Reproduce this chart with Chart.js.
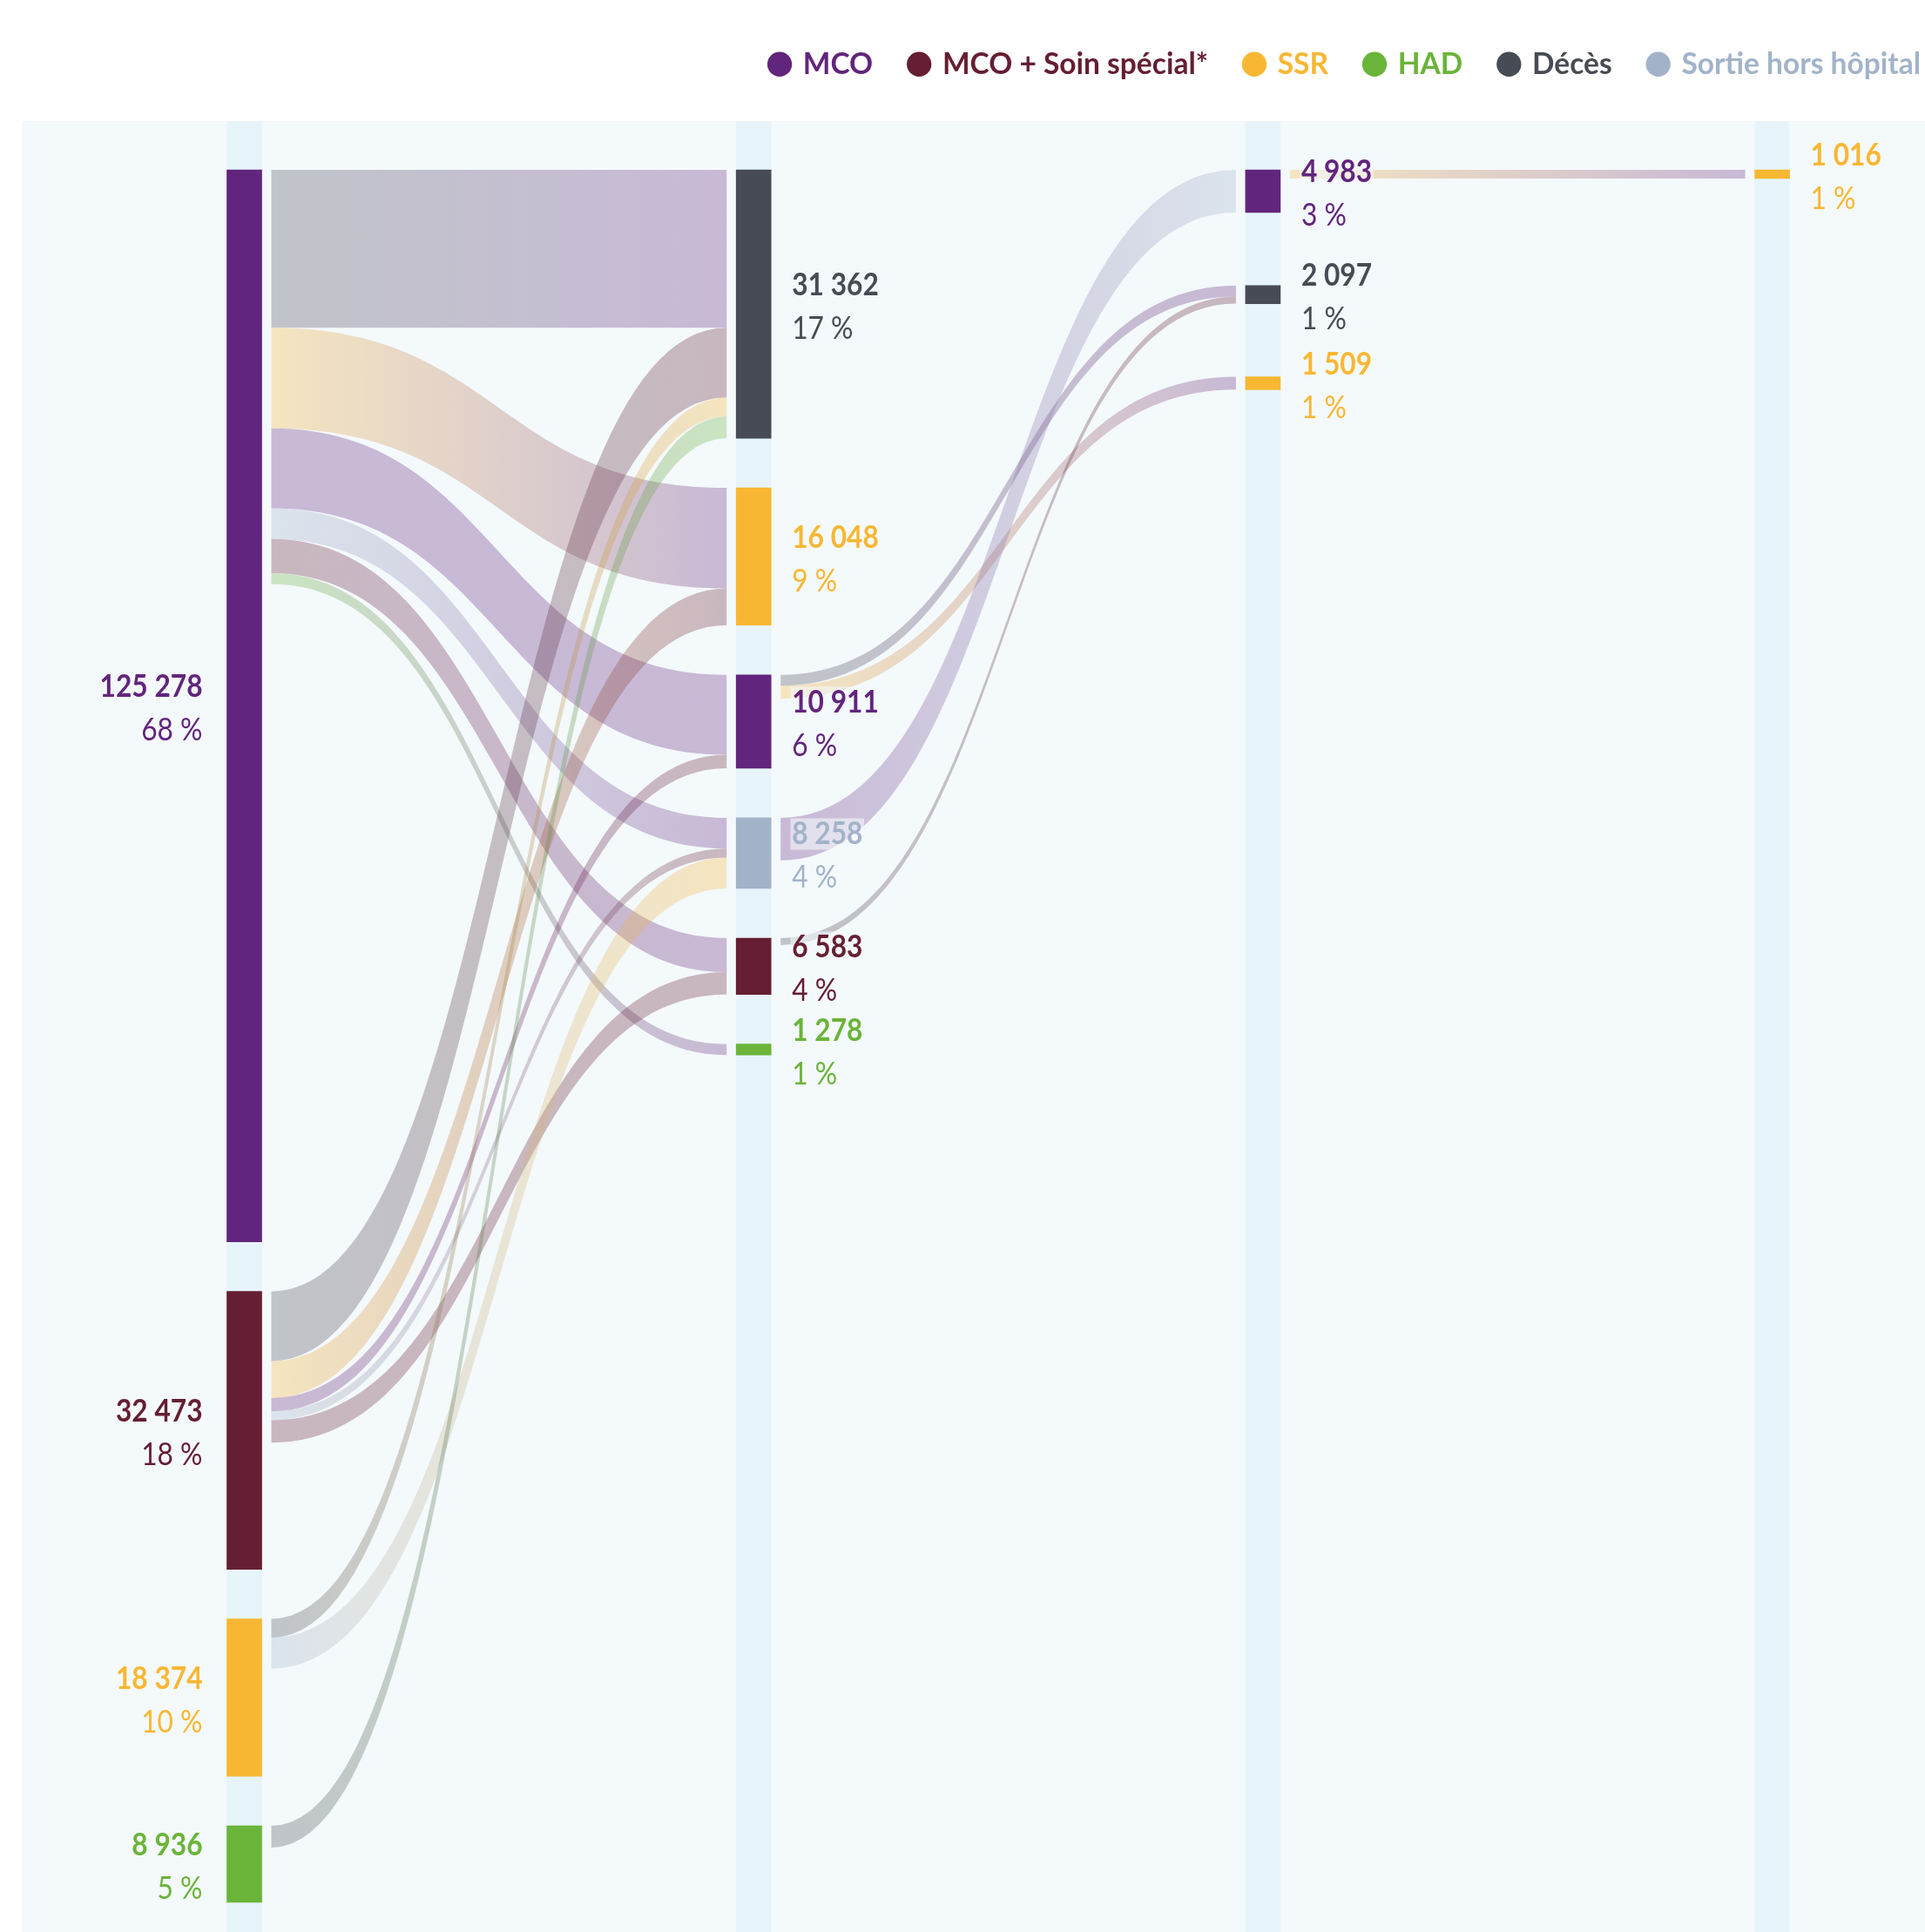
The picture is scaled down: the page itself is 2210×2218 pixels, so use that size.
<!DOCTYPE html>
<html>
<head>
<meta charset="utf-8">
<script src="https://cdn.jsdelivr.net/npm/chart.js@4.4.1/dist/chart.umd.min.js"></script>
<style>
html,body{margin:0;padding:0;background:#ffffff;}
canvas{display:block;}
</style>
</head>
<body>
<canvas id="c" width="2210" height="2218"></canvas>
<script>
// ================= DATA =================
const categories = ['MCO', 'MCO + Soin spécial*', 'SSR', 'HAD', 'Décès', 'Sortie hors hôpital'];

// nodes of each stage (top to bottom) and their values
const stage1Nodes = ['MCO', 'MCO + Soin spécial*', 'SSR', 'HAD'];
const stage1Values = [125278, 32473, 18374, 8936];
const stage2Nodes = ['Décès', 'SSR', 'MCO', 'Sortie hors hôpital', 'MCO + Soin spécial*', 'HAD'];
const stage2Values = [31362, 16048, 10911, 8258, 6583, 1278];
const stage3Nodes = ['MCO', 'Décès', 'SSR'];
const stage3Values = [4983, 2097, 1509];
const stage4Nodes = ['SSR'];
const stage4Values = [1016];

// flows stage 1 -> stage 2
const flow12From = ['MCO', 'MCO', 'MCO', 'MCO', 'MCO', 'MCO',
  'MCO + Soin spécial*', 'MCO + Soin spécial*', 'MCO + Soin spécial*', 'MCO + Soin spécial*', 'MCO + Soin spécial*',
  'SSR', 'SSR', 'HAD'];
const flow12To = ['Décès', 'SSR', 'MCO', 'Sortie hors hôpital', 'MCO + Soin spécial*', 'HAD',
  'Décès', 'SSR', 'MCO', 'Sortie hors hôpital', 'MCO + Soin spécial*',
  'Décès', 'Sortie hors hôpital', 'Décès'];
const flow12Values = [18450, 11750, 9350, 3600, 3980, 1278,
  8150, 4298, 1561, 1050, 2603,
  2200, 3608, 2562];
// flows stage 2 -> stage 3
const flow23From = ['MCO', 'MCO', 'Sortie hors hôpital', 'MCO + Soin spécial*'];
const flow23To = ['Décès', 'SSR', 'MCO', 'Décès'];
const flow23Values = [1290, 1509, 4983, 807];
// flows stage 3 -> stage 4
const flow34From = ['MCO'];
const flow34To = ['SSR'];
const flow34Values = [1016];

// ================= STYLE / LAYOUT =================
const categoryColors = ['#62257D', '#651E32', '#F8B733', '#6AB43A', '#474B53', '#A2B3C9'];
const PANEL_BG = '#F4F9FC';
const STRIPE_BG = '#E7F4FA';
const LINK_ALPHA = 0.3;
const FONT = 'Lato, "Noto Sans", sans-serif';
const TEXT_SX = 0.88;

const W = 2210, H = 2218;
const PAD = {top: 14, left: 25, right: -38, bottom: 0};
const LEGEND_H = 125;
const UNITS_PER_PX = 101.8;
const NODE_TOP_PX = 195;
const COL0_PX = 280.5, COL_STEP_PX = 584.7;
const NODE_W = 40, LINK_GAP = 11;
const STAGE_GAP_PX = [57, 57, 84, 0];

const stages = [
  {nodes: stage1Nodes, values: stage1Values},
  {nodes: stage2Nodes, values: stage2Values},
  {nodes: stage3Nodes, values: stage3Values},
  {nodes: stage4Nodes, values: stage4Values}
];
const flows = [
  {from: flow12From, to: flow12To, values: flow12Values},
  {from: flow23From, to: flow23To, values: flow23Values},
  {from: flow34From, to: flow34To, values: flow34Values}
];
const grandTotal = stage1Values.reduce((a, b) => a + b, 0);
const colorOf = name => categoryColors[categories.indexOf(name)];

// node layout in value units (y)
const nodeLayout = stages.map((st, s) => {
  let acc = 0;
  const gap = STAGE_GAP_PX[s] * UNITS_PER_PX;
  return st.nodes.map((n, i) => {
    const top = acc;
    acc += st.values[i] + gap;
    return {name: n, value: st.values[i], top, bottom: top + st.values[i]};
  });
});

// link layout
const linkLayout = [];
flows.forEach((f, s) => {
  const src = nodeLayout[s], tgt = nodeLayout[s + 1];
  const items = f.values.map((v, k) => ({
    si: src.findIndex(n => n.name === f.from[k]),
    ti: tgt.findIndex(n => n.name === f.to[k]),
    value: v, stage: s
  }));
  const srcOff = src.map(n => n.top), tgtOff = tgt.map(n => n.top);
  [...items].sort((a, b) => a.si - b.si || a.ti - b.ti).forEach(it => {
    it.sy0 = srcOff[it.si]; srcOff[it.si] += it.value; it.sy1 = srcOff[it.si];
  });
  [...items].sort((a, b) => a.ti - b.ti || a.si - b.si).forEach(it => {
    it.ty0 = tgtOff[it.ti]; tgtOff[it.ti] += it.value; it.ty1 = tgtOff[it.ti];
  });
  items.forEach(it => {
    it.srcColor = colorOf(src[it.si].name);
    it.tgtColor = colorOf(tgt[it.ti].name);
    linkLayout.push(it);
  });
});

// node bars for Chart.js
const nodeBars = [], nodeColors = [];
nodeLayout.forEach((col, s) => col.forEach(n => {
  nodeBars.push({x: s, y: [n.top, n.bottom]});
  nodeColors.push(colorOf(n.name));
}));

// scale ranges from a chart area
function rangesFor(area) {
  const yMin = -(NODE_TOP_PX - area.top) * UNITS_PER_PX;
  const yMax = yMin + (area.bottom - area.top) * UNITS_PER_PX;
  const xMin = -(COL0_PX - area.left) / COL_STEP_PX;
  const xMax = xMin + (area.right - area.left) / COL_STEP_PX;
  return {xMin, xMax, yMin, yMax};
}
const initial = rangesFor({left: PAD.left, right: W, top: PAD.top + LEGEND_H, bottom: H});

function rgba(hex, a) {
  const n = parseInt(hex.slice(1), 16);
  return `rgba(${(n >> 16) & 255},${(n >> 8) & 255},${n & 255},${a})`;
}
const fmt = v => String(v).replace(/\B(?=(\d{3})+(?!\d))/g, ' ');

const backgroundAndLinks = {
  id: 'backgroundAndLinks',
  beforeLayout(chart) {
    const lg = chart.legend;
    if (lg && !lg._fixedH) {
      const fit = lg.fit;
      lg.fit = function () { fit.call(this); this.height = LEGEND_H; };
      lg._fixedH = true;
    }
  },
  beforeDatasetsDraw(chart) {
    const {ctx, chartArea, scales: {x, y}} = chart;
    ctx.save();
    ctx.fillStyle = PANEL_BG;
    ctx.fillRect(chartArea.left, chartArea.top, chart.width - chartArea.left, chartArea.bottom - chartArea.top);
    ctx.fillStyle = STRIPE_BG;
    stages.forEach((st, s) => {
      const cx = x.getPixelForValue(s);
      ctx.fillRect(cx - NODE_W / 2, chartArea.top, NODE_W, chartArea.bottom - chartArea.top);
    });
    linkLayout.forEach(l => {
      const x0 = x.getPixelForValue(l.stage) + NODE_W / 2 + LINK_GAP;
      const x1 = x.getPixelForValue(l.stage + 1) - NODE_W / 2 - LINK_GAP;
      const xm = (x0 + x1) / 2;
      const a0 = y.getPixelForValue(l.sy0), a1 = y.getPixelForValue(l.sy1);
      const b0 = y.getPixelForValue(l.ty0), b1 = y.getPixelForValue(l.ty1);
      const g = ctx.createLinearGradient(x0, 0, x1, 0);
      g.addColorStop(0, rgba(l.tgtColor, LINK_ALPHA));
      g.addColorStop(1, rgba(l.srcColor, LINK_ALPHA));
      ctx.beginPath();
      ctx.moveTo(x0, a0);
      ctx.bezierCurveTo(xm, a0, xm, b0, x1, b0);
      ctx.lineTo(x1, b1);
      ctx.bezierCurveTo(xm, b1, xm, a1, x0, a1);
      ctx.closePath();
      ctx.fillStyle = g;
      ctx.fill();
    });
    ctx.restore();
  },
  afterDatasetsDraw(chart) {
    const {ctx, scales: {x, y}} = chart;
    nodeLayout.forEach((col, s) => col.forEach(n => {
      const cx = x.getPixelForValue(s);
      const cy = (y.getPixelForValue(n.top) + y.getPixelForValue(n.bottom)) / 2;
      const left = s === 0;
      const tx = left ? cx - NODE_W / 2 - 28 : cx + NODE_W / 2 + 24;
      const align = left ? 'right' : 'left';
      const color = colorOf(n.name);
      const pct = Math.round(n.value / grandTotal * 100) + ' %';
      drawText(ctx, fmt(n.value), tx, cy - 10, align, 'bold 36px ' + FONT, color, !left);
      drawText(ctx, pct, tx, cy + 40, align, '36px ' + FONT, color, false);
    }));
  }
};

function drawText(ctx, text, x, y, align, font, color, bg) {
  ctx.save();
  ctx.translate(x, y);
  ctx.scale(TEXT_SX, 1);
  ctx.font = font;
  ctx.textAlign = align;
  ctx.textBaseline = 'alphabetic';
  if (bg) {
    const w = ctx.measureText(text).width;
    const x0 = align === 'right' ? -w : 0;
    ctx.fillStyle = 'rgba(244,249,252,0.6)';
    ctx.fillRect(x0 - 2, -30, w + 4, 36);
  }
  ctx.fillStyle = color;
  ctx.fillText(text, 0, 0);
  ctx.restore();
}

const chart = new Chart(document.getElementById('c'), {
  type: 'bar',
  data: {
    datasets: [{
      label: 'Effectifs',
      data: nodeBars,
      backgroundColor: nodeColors,
      borderWidth: 0,
      barThickness: NODE_W,
      grouped: false
    }]
  },
  options: {
    responsive: false,
    animation: false,
    devicePixelRatio: 1,
    layout: {padding: PAD},
    scales: {
      x: {type: 'linear', min: initial.xMin, max: initial.xMax, display: false, offset: false, grid: {offset: false}},
      y: {type: 'linear', reverse: true, min: initial.yMin, max: initial.yMax, display: false, offset: false}
    },
    plugins: {
      tooltip: {enabled: false},
      legend: {
        display: true,
        position: 'top',
        align: 'end',
        onClick: null,
        labels: {
          usePointStyle: true,
          boxWidth: 20,
          boxHeight: 20,
          padding: 43,
          font: {family: FONT, size: 33.5, weight: 'bold'},
          generateLabels: () => categories.map((c, i) => ({
            text: c,
            fillStyle: categoryColors[i],
            strokeStyle: categoryColors[i],
            fontColor: categoryColors[i],
            lineWidth: 0,
            pointStyle: 'circle',
            hidden: false,
            datasetIndex: 0,
            index: i
          }))
        }
      }
    }
  },
  plugins: [backgroundAndLinks]
});

// align the value scales with the actual chart area
const r = rangesFor(chart.chartArea);
chart.options.scales.x.min = r.xMin;
chart.options.scales.x.max = r.xMax;
chart.options.scales.y.min = r.yMin;
chart.options.scales.y.max = r.yMax;
chart.update('none');
</script>
</body>
</html>
